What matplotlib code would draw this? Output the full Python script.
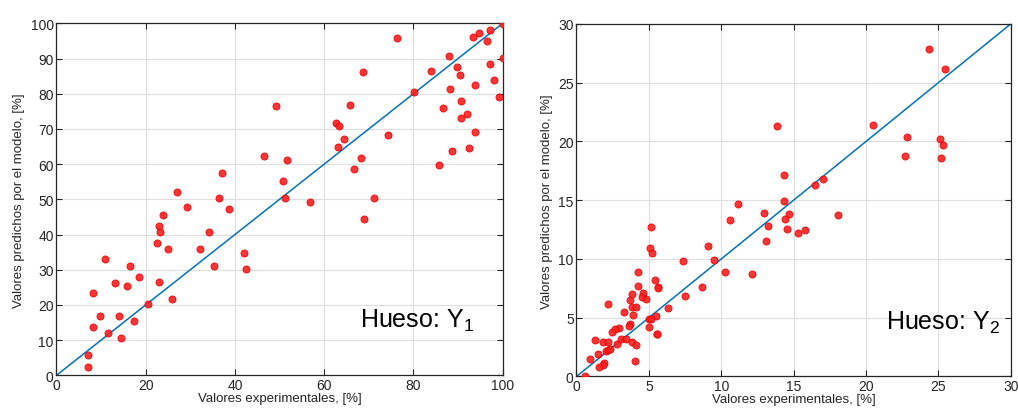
import matplotlib.pyplot as plt
import numpy as np

plt.rcParams['font.family'] = ['Liberation Sans', 'DejaVu Sans']
plt.rcParams['mathtext.default'] = 'regular'

# Y1: experimental vs predicted
x1 = [49.3, 46.4, 37.2, 27.1, 36.5, 50.8, 51.1, 76.4, 68.8, 65.8, 62.6, 63.3,
      64.4, 63.2, 68.2, 66.7, 74.3, 71.1, 51.7, 56.8, 100.0, 100.0, 97.1, 94.6,
      93.4, 96.4, 87.9, 84.0, 89.8, 90.4, 97.1, 98.1, 80.2, 88.3, 93.9, 99.2,
      90.7, 86.6, 92.1, 90.7, 93.9, 92.5, 88.6, 85.8, 29.2, 38.7, 23.8, 22.9,
      23.1, 22.5, 25.0, 32.1, 34.2, 35.4, 42.0, 42.5, 10.9, 16.5, 18.6, 13.2,
      15.7, 22.9, 8.1, 20.4, 25.9, 9.7, 13.9, 8.1, 17.4, 11.5, 14.4, 7.1, 7.1,
      69.0]
y1 = [76.4, 62.4, 57.5, 52.2, 50.5, 55.1, 50.5, 95.7, 86.1, 76.8, 71.8, 70.9,
      67.1, 64.8, 61.8, 58.7, 68.3, 50.3, 61.3, 49.1, 99.8, 90.1, 98.1, 97.2,
      96.0, 94.9, 90.7, 86.4, 87.5, 85.2, 88.4, 83.8, 80.5, 81.4, 82.6, 79.1,
      77.9, 75.9, 74.1, 73.2, 69.1, 64.5, 63.6, 59.8, 47.8, 47.2, 45.5, 42.5,
      40.8, 37.6, 35.9, 35.9, 40.8, 31.1, 34.7, 30.1, 33.0, 31.1, 27.9, 26.2,
      25.3, 26.4, 23.3, 20.3, 21.6, 16.8, 16.8, 13.6, 15.4, 11.9, 10.7, 5.8, 2.3,
      44.3]

# Y2: experimental vs predicted
x2 = [13.88, 14.36, 14.36, 11.16, 24.38, 25.49, 20.51, 22.86, 25.14, 25.35,
      22.72, 25.21, 17.06, 16.50, 14.71, 14.41, 14.55, 15.33, 15.79, 18.09,
      10.61, 12.96, 13.26, 13.10, 9.09, 9.53, 10.26, 12.13, 8.67, 7.36, 7.50,
      6.32, 5.15, 5.08, 5.22, 5.42, 5.63, 5.63, 4.25, 4.25, 4.60, 4.53, 4.80,
      3.86, 3.68, 3.81, 4.09, 3.90, 3.31, 3.70, 3.63, 5.49, 4.98, 5.12, 5.03,
      5.56, 5.58, 2.96, 2.68, 2.45, 1.28, 1.83, 2.20, 2.80, 3.10, 3.42, 3.84,
      4.11, 4.04, 2.16, 1.49, 2.02, 2.20, 2.34, 0.93, 1.92, 1.81, 1.53, 0.59]
y2 = [21.30, 17.17, 14.90, 14.65, 27.85, 26.17, 21.38, 20.41, 20.21, 19.70,
      18.74, 18.57, 16.81, 16.27, 13.86, 13.40, 12.53, 12.19, 12.44, 13.74,
      13.32, 13.91, 12.78, 11.56, 11.13, 9.91, 8.87, 8.70, 7.64, 9.80, 6.85,
      5.80, 12.70, 10.96, 10.51, 8.19, 7.64, 7.53, 8.87, 7.73, 7.13, 6.74, 6.57,
      7.02, 6.54, 5.89, 5.94, 5.26, 5.46, 4.44, 4.32, 5.12, 4.85, 4.87, 4.24,
      3.62, 3.58, 4.13, 4.07, 3.76, 3.08, 2.96, 2.96, 2.79, 3.19, 3.17, 2.94,
      2.66, 1.32, 6.14, 1.94, 2.20, 2.23, 2.31, 1.52, 1.15, 0.98, 0.83, 0.02]

lim1 = 100
lim2 = 30
ticks1 = np.arange(0, 101, 20)
yticks1 = np.arange(0, 101, 10)
ticks2 = np.arange(0, 31, 5)

fig = plt.figure(figsize=(10.18, 4.10), dpi=100)
ax1 = fig.add_axes([0.0555, 0.0822, 0.4383, 0.8585])
ax2 = fig.add_axes([0.5663, 0.0793, 0.4265, 0.8598])

panels = [(ax1, x1, y1, lim1, ticks1, yticks1, 'Hueso: Y$_1$', (68.0, 13.7)),
          (ax2, x2, y2, lim2, ticks2, ticks2, 'Hueso: Y$_2$', (21.4, 4.1))]

for ax, xs, ys, lim, xt, yt, tag, pos in panels:
    ax.plot([0, lim], [0, lim], color='#0072BD', lw=1.1, zorder=2)
    ax.scatter(xs, ys, s=26, color='#ff1f1f', edgecolors='#e60000',
               linewidths=0.6, alpha=0.9, zorder=3)
    ax.set_xlim(0, lim)
    ax.set_ylim(0, lim)
    ax.set_xticks(xt)
    ax.set_yticks(yt)
    ax.grid(True, color='#dedede', lw=0.8)
    ax.set_axisbelow(True)
    ax.tick_params(direction='in', top=True, right=True, length=4,
                   width=0.8, color='#262626', labelsize=10,
                   labelcolor='#262626', pad=2)
    for sp in ax.spines.values():
        sp.set_color('#262626')
        sp.set_linewidth(0.9)
    ax.set_xlabel('Valores experimentales, [%]', fontsize=9.5, color='#262626',
                  labelpad=0)
    ax.set_ylabel('Valores predichos por el modelo, [%]', fontsize=9.5,
                  color='#262626', labelpad=4)
    ax.text(pos[0], pos[1], tag, fontsize=18, ha='left', va='baseline',
            color='black')

fig.savefig('out.png', dpi=100)
